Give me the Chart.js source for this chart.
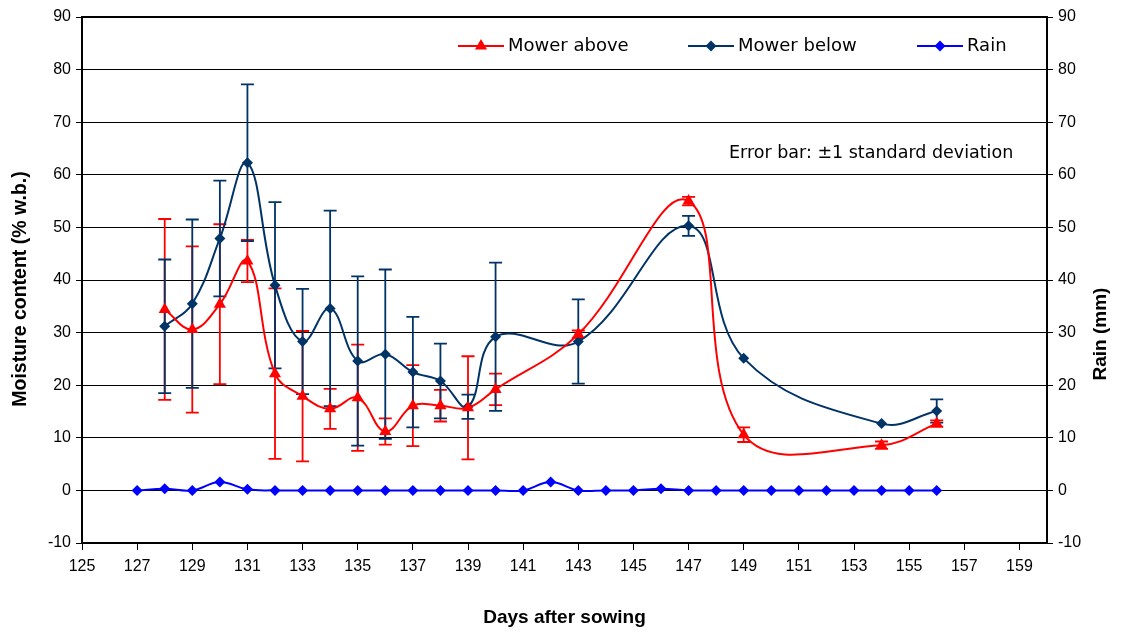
<!DOCTYPE html>
<html><head><meta charset="utf-8">
<script src="https://cdn.jsdelivr.net/npm/chart.js@4"></script>
<style>html,body{margin:0;padding:0;background:#fff;}canvas{display:block;}</style>
</head><body>
<canvas id="c" width="1124" height="632"></canvas>
<script>
// ---- data ----
const mowerDays    = [128, 129, 130, 131, 132, 133, 134, 135, 136, 137, 138, 139, 140, 143, 147, 149, 154, 156];
const mowerAbove   = [34.4, 30.6, 35.4, 43.6, 22.2, 17.9, 15.5, 17.6, 11.2, 16.1, 16.1, 15.7, 19.2, 29.7, 55.0, 10.6, 8.6, 12.7];
const mowerAboveSD = [17.2, 15.8, 15.2, 4.0, 16.2, 12.4, 3.8, 10.1, 2.5, 7.7, 3.0, 9.8, 3.0, 0.7, 0.8, 1.4, 0.7, 0.6];
const mowerBelow   = [31.2, 35.5, 47.9, 62.3, 39.0, 28.3, 34.6, 24.6, 25.9, 22.5, 20.8, 15.9, 29.2, 28.3, 50.3, 25.1, 12.7, 15.1];
const mowerBelowSD = [12.7, 16.0, 11.0, 14.9, 15.8, 10.0, 18.6, 16.1, 16.1, 10.5, 7.1, 2.3, 14.1, 8.0, 1.9, 0, 0, 2.2];
const rainDays = [127,128,129,130,131,132,133,134,135,136,137,138,139,140,141,142,143,144,145,146,147,148,149,150,151,152,153,154,155,156];
const rainMM   = [0,0.3,0,1.6,0.2,0,0,0,0,0,0,0,0,0,0,1.6,0,0,0,0.3,0,0,0,0,0,0,0,0,0,0];
const xTickValues = [125,127,129,131,133,135,137,139,141,143,145,147,149,151,153,155,157,159];
const seriesNames = ['Mower above', 'Mower below', 'Rain'];
const noteText = 'Error bar: \u00b11 standard deviation';
const leftTitle = 'Moisture content (% w.b.)';
const rightTitle = 'Rain (mm)';

const RED = '#ff0000', NAVY = '#003366', BLUE = '#0000ff';
const pts = (xs, ys) => xs.map((x, i) => ({x: x, y: ys[i]}));

const errorBars = {
  id: 'errorBars',
  beforeDatasetsDraw(chart) {
    const ctx = chart.ctx, xs = chart.scales.x, ys = chart.scales.y;
    chart.data.datasets.forEach(ds => {
      if (!ds.sd) return;
      ctx.save();
      ctx.strokeStyle = ds.borderColor;
      ctx.lineWidth = 1.8;
      ds.data.forEach((p, i) => {
        const e = ds.sd[i];
        if (!e) return;
        const px = xs.getPixelForValue(p.x);
        const t = ys.getPixelForValue(p.y + e), b = ys.getPixelForValue(p.y - e);
        ctx.beginPath();
        ctx.moveTo(px, t); ctx.lineTo(px, b);
        ctx.moveTo(px - 6.5, t); ctx.lineTo(px + 6.5, t);
        ctx.moveTo(px - 6.5, b); ctx.lineTo(px + 6.5, b);
        ctx.stroke();
      });
      ctx.restore();
    });
  }
};

function marker(ctx, style, x, y, r, color) {
  ctx.fillStyle = color;
  ctx.beginPath();
  if (style === 'triangle') {
    ctx.moveTo(x, y - r);
    ctx.lineTo(x + r * 0.866, y + r * 0.5);
    ctx.lineTo(x - r * 0.866, y + r * 0.5);
  } else {
    ctx.moveTo(x, y - r); ctx.lineTo(x + r, y); ctx.lineTo(x, y + r); ctx.lineTo(x - r, y);
  }
  ctx.closePath();
  ctx.fill();
}

function vText(ctx, text, x, y, font) {
  ctx.save();
  ctx.translate(x, y);
  ctx.rotate(-Math.PI / 2);
  ctx.textAlign = 'center';
  ctx.textBaseline = 'middle';
  ctx.font = font;
  ctx.fillStyle = '#000';
  ctx.fillText(text, 0, 0);
  ctx.restore();
}

const overlay = {
  id: 'overlay',
  afterDraw(chart) {
    const ctx = chart.ctx, a = chart.chartArea;
    ctx.save();
    // plot border
    ctx.strokeStyle = '#000'; ctx.lineWidth = 2;
    ctx.strokeRect(a.left, a.top, a.right - a.left, a.bottom - a.top);
    // legend
    const items = [
      {x: 458, color: RED, style: 'triangle', r: 7},
      {x: 688, color: NAVY, style: 'diamond', r: 5.5},
      {x: 917, color: BLUE, style: 'diamond', r: 5.5}
    ];
    const ly = 46;
    ctx.font = '18px "DejaVu Sans"';
    ctx.textBaseline = 'middle';
    ctx.textAlign = 'left';
    items.forEach((it, i) => {
      ctx.strokeStyle = it.color; ctx.lineWidth = 2;
      ctx.beginPath(); ctx.moveTo(it.x, ly); ctx.lineTo(it.x + 46, ly); ctx.stroke();
      marker(ctx, it.style, it.x + 23, ly, it.r, it.color);
      ctx.fillStyle = '#000';
      ctx.fillText(seriesNames[i], it.x + 50, ly);
    });
    ctx.font = '17.5px "DejaVu Sans"';
    ctx.fillText(noteText, 729, 153);
    ctx.restore();
    vText(ctx, leftTitle, 21, 289, 'bold 19.5px "Liberation Sans", Arial');
    vText(ctx, rightTitle, 1101, 334, 'bold 19px "Liberation Sans", Arial');
  }
};

new Chart(document.getElementById('c'), {
  type: 'line',
  data: {
    datasets: [
      {label: seriesNames[0], data: pts(mowerDays, mowerAbove), sd: mowerAboveSD, yAxisID: 'y',
       borderColor: RED, backgroundColor: RED, borderWidth: 2, pointStyle: 'triangle', pointRadius: 7,
       pointBorderWidth: 0, tension: 0.4, fill: false},
      {label: seriesNames[1], data: pts(mowerDays, mowerBelow), sd: mowerBelowSD, yAxisID: 'y',
       borderColor: NAVY, backgroundColor: NAVY, borderWidth: 2, pointStyle: 'rectRot', pointRadius: 5.5,
       pointBorderWidth: 0, tension: 0.4, fill: false},
      {label: seriesNames[2], data: pts(rainDays, rainMM), yAxisID: 'y2',
       borderColor: BLUE, backgroundColor: BLUE, borderWidth: 2, pointStyle: 'rectRot', pointRadius: 5.5,
       pointBorderWidth: 0, tension: 0.4, fill: false}
    ]
  },
  options: {
    responsive: false, animation: false, devicePixelRatio: 1,
    layout: {padding: {top: 17, left: 0, right: 0, bottom: 0}},
    plugins: {legend: {display: false}, tooltip: {enabled: false}},
    scales: {
      x: {
        type: 'linear', min: 125, max: 160,
        afterBuildTicks: s => { s.ticks = xTickValues.map(v => ({value: v})); },
        afterFit: s => { s.height = 89; },
        grid: {drawOnChartArea: false, color: '#000', tickLength: 7, tickWidth: 1},
        border: {color: '#000', width: 2},
        ticks: {color: '#000', padding: 7, maxRotation: 0, autoSkip: false,
                font: {family: '"Liberation Sans Narrow", "Liberation Sans", Arial', size: 16}},
        title: {display: true, text: 'Days after sowing', color: '#000', padding: {top: 0, bottom: 3},
                font: {family: '"Liberation Sans Narrow", "Liberation Sans", Arial', size: 19, weight: 'bold'}}
      },
      y: {
        position: 'left', min: -10, max: 90,
        afterFit: s => { s.width = 82; },
        ticks: {stepSize: 10, color: '#000', padding: 5,
                font: {family: '"Liberation Sans", Arial', size: 16}},
        grid: {color: '#000', lineWidth: 1, tickLength: 6},
        border: {color: '#000', width: 2},
        title: {display: false}
      },
      y2: {
        position: 'right', min: -10, max: 90,
        afterFit: s => { s.width = 77; },
        ticks: {stepSize: 10, color: '#000', padding: 5,
                font: {family: '"Liberation Sans", Arial', size: 16}},
        grid: {drawOnChartArea: false, color: '#000', tickLength: 6},
        border: {color: '#000', width: 2},
        title: {display: false}
      }
    }
  },
  plugins: [errorBars, overlay]
});
</script>
</body></html>
